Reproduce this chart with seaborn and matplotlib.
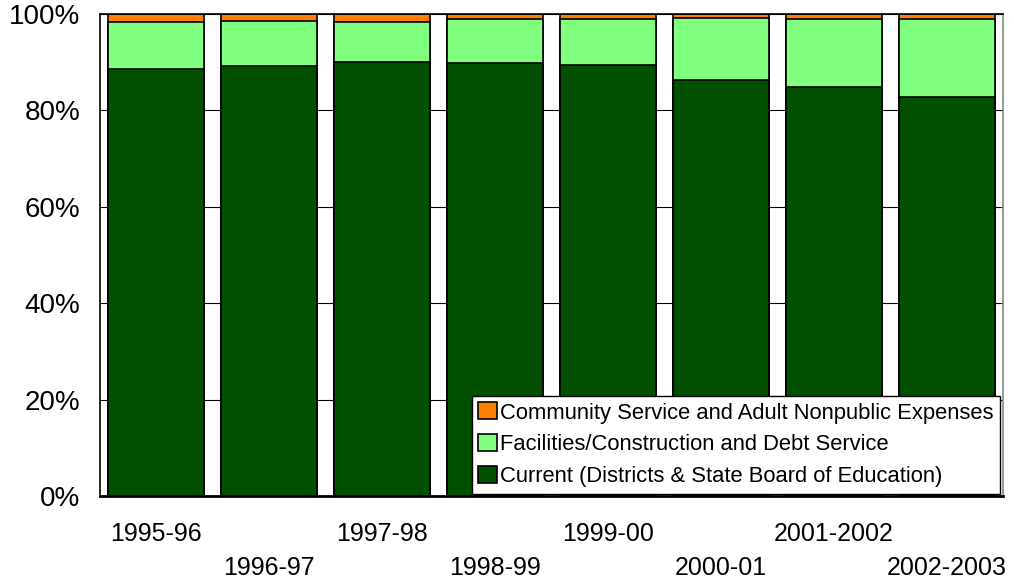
import pandas as pd
import seaborn as sns
import matplotlib.pyplot as plt

# school years and share of spending (percent)
years = ['1995-96', '1996-97', '1997-98', '1998-99', '1999-00', '2000-01', '2001-2002', '2002-2003']
current = [88.6, 89.2, 90.0, 89.8, 89.5, 86.3, 84.9, 82.8]
facilities = [9.8, 9.3, 8.4, 9.2, 9.5, 12.8, 14.1, 16.2]
community = [1.6, 1.5, 1.6, 1.0, 1.0, 0.9, 1.0, 1.0]

labels = ['Current (Districts & State Board of Education)',
          'Facilities/Construction and Debt Service',
          'Community Service and Adult Nonpublic Expenses']
colors = ['#005000', '#80FF80', '#FF8000']

df = pd.DataFrame({'year': years, 'current': current,
                   'facilities': facilities, 'community': community})
# cumulative tops, drawn back to front
df['top_cur'] = df['current']
df['top_fac'] = df['current'] + df['facilities']
df['top_com'] = df['top_fac'] + df['community']

sns.set_style('white')
plt.rcParams['font.family'] = ['Liberation Sans', 'DejaVu Sans']
plt.rcParams['text.color'] = 'black'
plt.rcParams['xtick.color'] = 'black'
plt.rcParams['ytick.color'] = 'black'

fig = plt.figure(figsize=(10.14, 5.8), dpi=100)
ax = fig.add_axes([100 / 1014, 84 / 580, 903 / 1014, 482 / 580])

for col, c, lab in zip(['top_com', 'top_fac', 'top_cur'], colors[::-1], labels[::-1]):
    sns.barplot(data=df, x='year', y=col, color=c, saturation=1, width=0.85,
                edgecolor='black', linewidth=1.2, label=lab, ax=ax, zorder=2)

ax.set_ylim(0, 100)
ax.set_xlim(-0.5, 7.5)
ax.set_yticks([0, 20, 40, 60, 80, 100])
ax.set_yticklabels(['0%', '20%', '40%', '60%', '80%', '100%'])
ax.yaxis.grid(True, color='black', linewidth=0.8)
ax.set_axisbelow(True)

ax.set_xticks(range(len(years)))
ax.set_xticklabels([y if i % 2 == 0 else '\n' + y for i, y in enumerate(years)],
                   linespacing=1.5)
ax.tick_params(axis='x', length=0, pad=19, labelsize=18)
ax.tick_params(axis='y', length=0, pad=14, labelsize=20)
ax.set_xlabel('')
ax.set_ylabel('')

for s in ['left', 'top']:
    ax.spines[s].set_color('black')
    ax.spines[s].set_linewidth(1.2)
ax.spines['bottom'].set_color('black')
ax.spines['bottom'].set_linewidth(2)
ax.spines['right'].set_color('#888888')
ax.spines['right'].set_linewidth(1.2)

h, l = ax.get_legend_handles_labels()
leg = ax.legend(h, l, loc='lower right', bbox_to_anchor=(0.997, 0.004),
                fontsize=15.8, frameon=True, fancybox=False, framealpha=1,
                edgecolor='black', handlelength=0.85, handleheight=0.8,
                handletextpad=0.15, labelspacing=0.5, borderpad=0.3,
                borderaxespad=0)
leg.get_frame().set_linewidth(1)

plt.savefig('out.png', dpi=100)
